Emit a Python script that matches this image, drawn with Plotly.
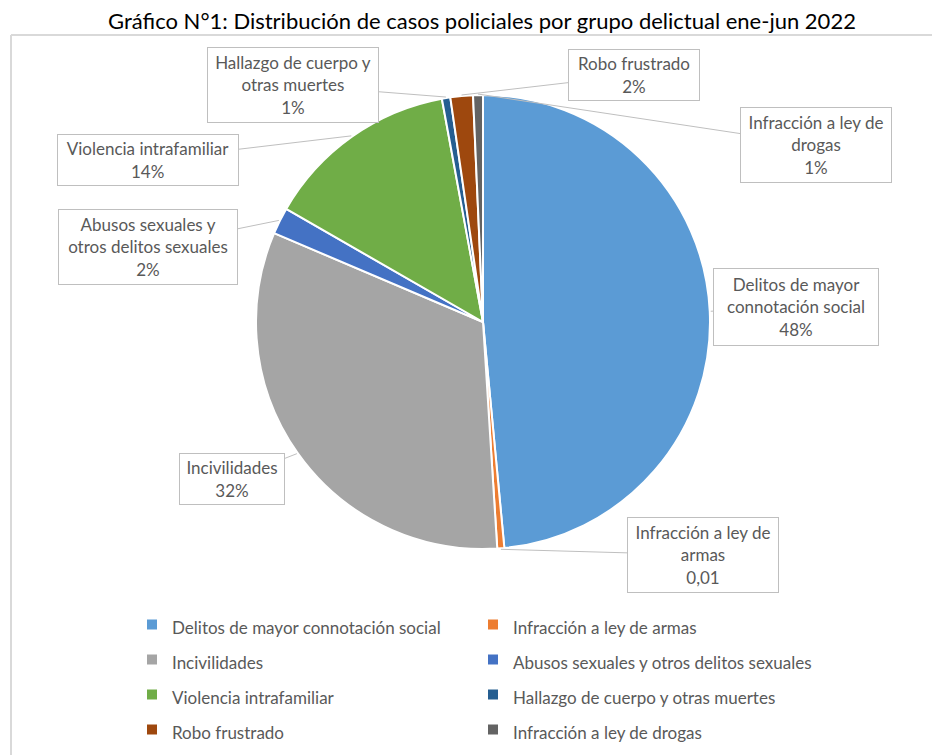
import math

import plotly.graph_objects as go

# Slices in clockwise order from 12 o'clock
categories = [
    "Delitos de mayor connotación social",
    "Infracción a ley de armas",
    "Incivilidades",
    "Abusos sexuales y otros delitos sexuales",
    "Violencia intrafamiliar",
    "Hallazgo de cuerpo y otras muertes",
    "Robo frustrado",
    "Infracción a ley de drogas",
]
shares = [48.5, 0.5, 32.4, 1.9, 13.8, 0.6, 1.6, 0.7]
share_labels = ["48%", "0,01", "32%", "2%", "14%", "1%", "2%", "1%"]
callout_names = [
    "Delitos de mayor<br>connotación social",
    "Infracción a ley de<br>armas",
    "Incivilidades",
    "Abusos sexuales y<br>otros delitos sexuales",
    "Violencia intrafamiliar",
    "Hallazgo de cuerpo y<br>otras muertes",
    "Robo frustrado",
    "Infracción a ley de<br>drogas",
]
colors = ["#5B9BD5", "#ED7D31", "#A5A5A5", "#4472C4",
          "#70AD47", "#255E91", "#9E480E", "#636363"]

# callout boxes: centre (page px), text width, text height
box_pos = [(796, 307), (703, 555), (232, 479), (148, 247),
           (148, 160), (293, 85), (634, 75), (816, 145)]
box_w = [156, 142, 96, 170, 172, 162, 122, 142]
box_h = [68, 66, 42, 66, 42, 66, 42, 66]

# the page body adds an 8px margin, so the figure is 8px smaller
OFF = 8
W, H = 940 - OFF, 755 - OFF
ML, MR, MT, MB = 11 - OFF, 0, 35 - OFF, 0
PW, PH = W - ML - MR, H - MT - MB
CX, CY, R = 483, 322, 227  # pie centre / radius in page px

FONT = "Lato"
TXT = "#595959"
FRAME = "#D9D9D9"


def px_x(x):
    return (x - OFF - ML) / PW


def px_y(y):
    return (H - MB - (y - OFF)) / PH


fig = go.Figure(
    go.Pie(
        labels=[f'<span style="font-size:17px">{c}</span>' for c in categories],
        values=shares,
        sort=False,
        direction="clockwise",
        rotation=0,
        marker=dict(colors=colors, line=dict(color="white", width=2)),
        textinfo="none",
        hoverinfo="percent",
        domain=dict(x=[px_x(CX - R), px_x(CX + R)], y=[px_y(CY + R), px_y(CY - R)]),
    )
)

total = sum(shares)
cum = 0
annotations = []
for i, v in enumerate(shares):
    theta = 2 * math.pi * (cum + v / 2) / total
    cum += v
    px = CX + (R + 1) * math.sin(theta)
    py = CY - (R + 1) * math.cos(theta)
    bx, by = box_pos[i]
    annotations.append(dict(
        x=px_x(px), y=px_y(py), xref="paper", yref="paper",
        ax=bx - px, ay=by - py,
        text=f"{callout_names[i]}<br>{share_labels[i]}",
        showarrow=True, arrowhead=0, arrowwidth=1, arrowcolor="#BFBFBF",
        bordercolor="#BFBFBF", borderwidth=1, borderpad=4,
        bgcolor="white", width=box_w[i], height=box_h[i],
        align="center", valign="middle",
        font=dict(family=FONT, size=17, color=TXT),
    ))

fig.update_layout(
    width=W, height=H,
    margin=dict(l=ML, r=MR, t=MT, b=MB),
    paper_bgcolor="white", plot_bgcolor="white",
    title=dict(
        text="Gráfico N°1: Distribución de casos policiales por grupo delictual ene-jun 2022",
        x=(482 - OFF) / W, xanchor="center",
        y=1 - (21 - OFF) / H, yanchor="middle", yref="container",
        font=dict(family=FONT, size=22, color="black"),
    ),
    annotations=annotations,
    shapes=[
        dict(type="line", xref="paper", yref="paper", x0=0, x1=1, y0=1, y1=1,
             line=dict(color=FRAME, width=2)),
        dict(type="line", xref="paper", yref="paper", x0=0, x1=0, y0=0, y1=1,
             line=dict(color=FRAME, width=2)),
    ],
    showlegend=True,
    legend=dict(
        orientation="h", x=px_x(132), xanchor="left",
        y=px_y(602), yanchor="top",
        entrywidth=296, entrywidthmode="pixels",
        bgcolor="rgba(0,0,0,0)",
        font=dict(family=FONT, size=24.6, color=TXT),
        traceorder="normal",
    ),
)

fig.write_html("out.html")
